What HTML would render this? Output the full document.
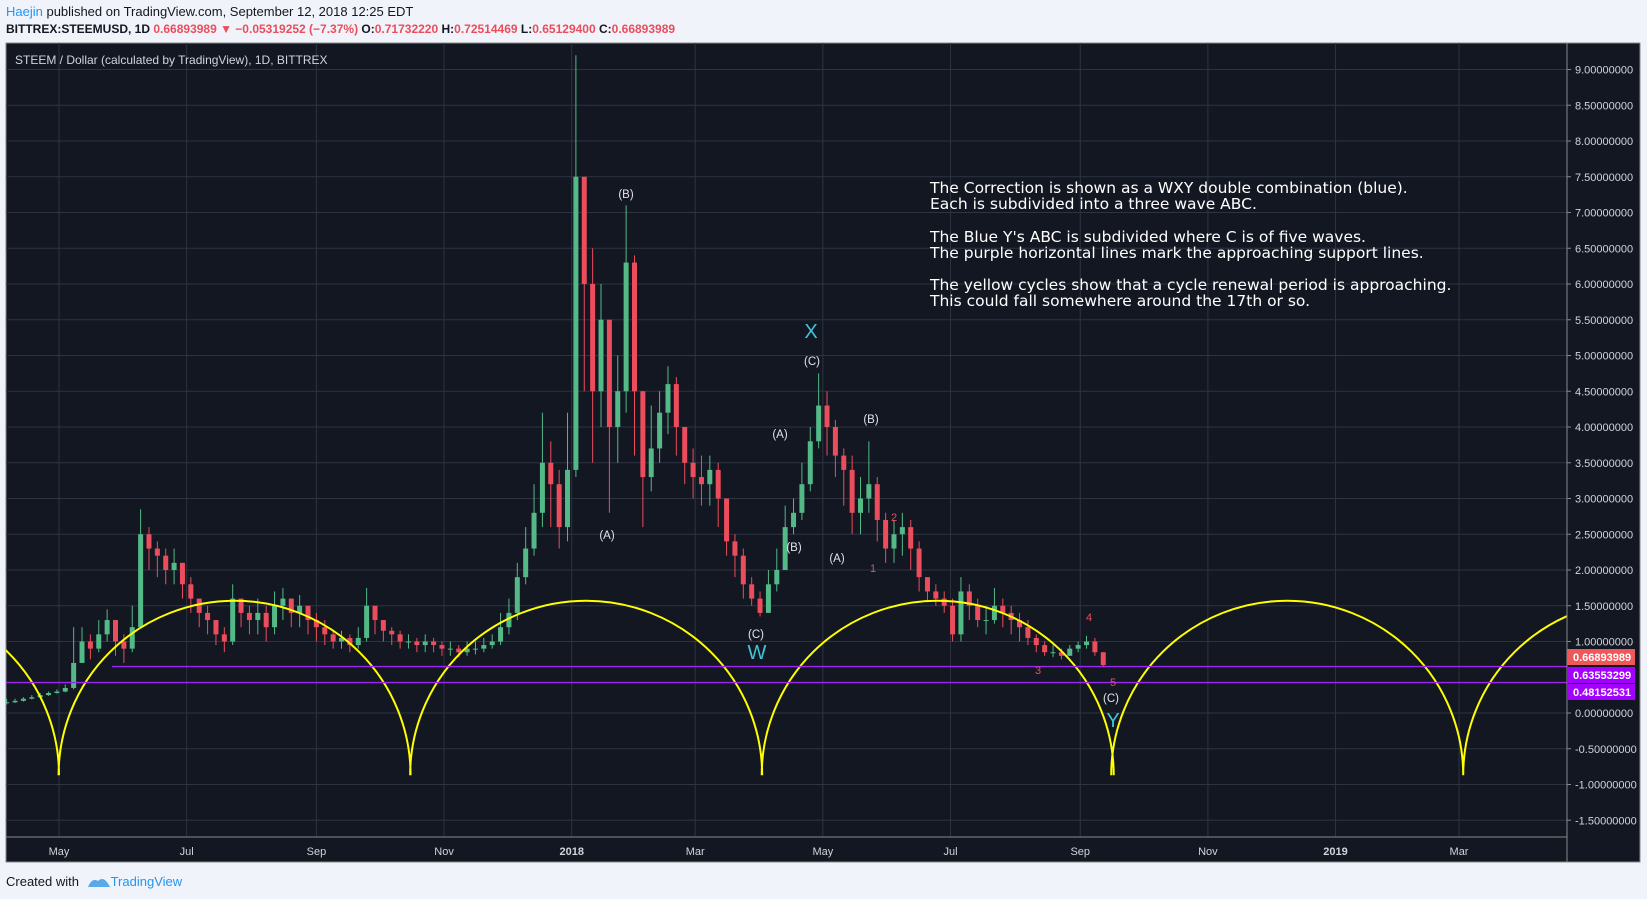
<!DOCTYPE html>
<html><head><meta charset="utf-8"><style>
body{margin:0;width:1647px;height:899px;background:#f0f3fa;font-family:"Liberation Sans",sans-serif;overflow:hidden;position:relative}
.hd{position:absolute;left:6px;font-size:12px;color:#131722;white-space:nowrap}
</style></head><body>
<div class="hd" style="top:4px;font-size:13px"><span style="color:#2196f3">Haejin</span> published on TradingView.com, September 12, 2018 12:25 EDT</div>
<div class="hd" style="top:22px;font-weight:bold">BITTREX:STEEMUSD, 1D <span style="color:#eb4d5c">0.66893989 ▼ −0.05319252 (−7.37%)</span> O:<span style="color:#eb4d5c">0.71732220</span> H:<span style="color:#eb4d5c">0.72514469</span> L:<span style="color:#eb4d5c">0.65129400</span> C:<span style="color:#eb4d5c">0.66893989</span></div>
<svg id="c" width="1647" height="899" style="position:absolute;left:0;top:0"></svg>
<div class="hd" style="top:874px;font-size:13px">Created with <span style="color:#2196f3;margin-left:28px">TradingView</span></div>
<svg width="26" height="14" style="position:absolute;left:86px;top:875px"><path d="M2 12 Q6 2 12 6 Q18 0 24 12 Z" fill="#5ba8e8"/></svg>
<script>
const closes=[0.15,0.17,0.2,0.22,0.25,0.28,0.3,0.35,0.7,1.0,0.9,1.1,1.3,1.0,0.9,1.2,2.5,2.3,2.2,2.0,2.1,1.8,1.6,1.4,1.3,1.1,1.0,1.6,1.4,1.3,1.4,1.2,1.5,1.6,1.4,1.5,1.3,1.2,1.1,1.0,1.05,0.95,1.05,1.5,1.3,1.15,1.1,1.0,1.0,0.95,1.0,0.95,0.9,0.9,0.85,0.9,0.9,0.95,1.0,1.2,1.4,1.9,2.3,2.8,3.5,3.2,2.6,3.4,7.5,6.0,4.5,5.5,4.0,4.5,6.3,4.5,3.3,3.7,4.2,4.6,4.0,3.5,3.3,3.2,3.4,3.0,2.4,2.2,1.8,1.6,1.4,1.8,2.0,2.6,2.8,3.2,3.8,4.3,4.0,3.6,3.4,2.8,3.0,3.2,2.7,2.3,2.5,2.6,2.3,1.9,1.7,1.6,1.5,1.1,1.7,1.5,1.3,1.3,1.5,1.4,1.3,1.2,1.05,0.95,0.85,0.85,0.8,0.9,0.95,1.0,0.85,0.67];
const highs=[0.2,0.2,0.22,0.25,0.28,0.3,0.33,0.4,1.2,1.2,1.1,1.3,1.45,1.3,1.1,1.5,2.85,2.6,2.4,2.3,2.3,2.1,1.9,1.6,1.5,1.3,1.2,1.8,1.6,1.5,1.6,1.5,1.7,1.75,1.6,1.65,1.5,1.4,1.3,1.15,1.15,1.1,1.2,1.75,1.5,1.3,1.2,1.15,1.1,1.05,1.1,1.05,1.0,1.0,0.95,1.0,1.0,1.05,1.1,1.4,1.6,2.1,2.6,3.2,4.2,3.8,3.4,4.2,9.2,7.5,6.5,6.0,5.5,5.0,7.1,6.4,4.5,4.3,4.5,4.85,4.7,4.0,3.7,3.6,3.6,3.5,3.0,2.5,2.3,1.9,1.7,2.0,2.3,2.9,3.0,3.5,4.0,4.75,4.5,4.1,3.7,3.6,3.3,3.8,3.3,2.8,2.7,2.8,2.7,2.4,1.9,1.8,1.7,1.6,1.9,1.8,1.6,1.5,1.75,1.6,1.5,1.4,1.3,1.1,1.0,0.95,0.9,0.95,1.0,1.08,1.05,0.85];
const lows=[0.12,0.14,0.16,0.19,0.21,0.24,0.27,0.29,0.33,0.75,0.75,0.85,1.0,0.8,0.7,0.85,1.2,2.0,1.9,1.8,1.8,1.6,1.4,1.2,1.1,0.95,0.85,0.95,1.2,1.1,1.1,1.0,1.1,1.3,1.2,1.2,1.1,1.0,0.95,0.9,0.9,0.85,0.9,1.0,1.1,1.0,0.95,0.9,0.9,0.85,0.85,0.85,0.8,0.8,0.78,0.8,0.82,0.85,0.9,0.95,1.1,1.3,1.8,2.2,2.6,2.6,2.3,2.4,3.3,4.5,3.5,4.0,2.8,3.5,4.2,3.6,2.6,3.1,3.5,3.9,3.6,3.2,3.0,2.9,2.9,2.6,2.2,1.9,1.6,1.5,1.35,1.4,1.7,2.0,2.5,2.7,3.1,3.7,3.6,3.3,2.9,2.5,2.5,2.8,2.4,2.1,2.1,2.2,2.0,1.7,1.55,1.5,1.4,1.0,1.0,1.3,1.2,1.1,1.25,1.2,1.1,1.0,0.95,0.85,0.8,0.78,0.75,0.8,0.85,0.9,0.8,0.65];
const startDay=-25, stepDays=4;
const yTicks=[9,8.5,8,7.5,7,6.5,6,5.5,5,4.5,4,3.5,3,2.5,2,1.5,1,0,-0.5,-1,-1.5];
const monthLabels=["May","Jul","Sep","Nov","2018","Mar","May","Jul","Sep","Nov","2019","Mar"];
const monthDays=[0,61,123,184,245,304,365,426,488,549,610,669];
const cycleDays=[0,168,336,504,671];
const supportLevels=[0.63553299,0.48152531];
const lastPrice=0.66893989;
const NS="http://www.w3.org/2000/svg",svg=document.getElementById('c');
const X=d=>59+d*2.0927, Y=v=>713-71.5*v;
function el(t,a,p){const e=document.createElementNS(NS,t);for(const k in a)e.setAttribute(k,a[k]);(p||svg).appendChild(e);return e;}
const bg=el('rect',{x:6,y:43,width:1634,height:819,fill:'#131722',stroke:'#888','stroke-width':1});


const defs=el('defs',{});const cp=el('clipPath',{id:'pc'},defs);el('rect',{x:6,y:43,width:1561,height:794},cp);
const g=el('g',{'clip-path':'url(#pc)'});
yTicks.forEach(v=>{const l=el('line',{x1:6,x2:1567,y1:Y(v),y2:Y(v),stroke:'#2e3342'},g);


const t=el('text',{x:1575,y:Y(v)+4,fill:'#d1d4dc','font-size':11},svg);t.textContent=v.toFixed(8);


el('line',{x1:1567,x2:1571,y1:Y(v),y2:Y(v),stroke:'#888'});});
monthLabels.forEach((m,i)=>{const x=X(monthDays[i]);el('line',{x1:x,x2:x,y1:43,y2:837,stroke:'#2e3342'},g);
const t=el('text',{x:x,y:855,fill:'#d1d4dc','font-size':11,'text-anchor':'middle','font-weight':(m.length==4?'bold':'normal')});t.textContent=m;

});
el('line',{x1:1567,x2:1567,y1:43,y2:862,stroke:'#888'});
el('line',{x1:6,x2:1567,y1:837,y2:837,stroke:'#888'});
closes.forEach((c,i)=>{const o=i?closes[i-1]:c;const x=X(startDay+i*stepDays);const col=c>=o?'#53b987':'#eb4d5c';
el('line',{x1:x,x2:x,y1:Y(highs[i]),y2:Y(lows[i]),stroke:col,'stroke-width':1},g);
const r=el('rect',{x:x-2.5,y:Y(Math.max(o,c)),width:5,height:Math.max(1,Math.abs(Y(o)-Y(c))),fill:col},g);

});
const rx=176,cy=Y(-0.87),ry=cy-Y(1.57);
let d='';cycleDays.forEach((cd,i)=>{const x0=X(cd);d+=`M${x0-rx*2},${cy} A${rx},${ry} 0 0 1 ${x0},${cy} `;});
d+=`M${X(cycleDays[4])},${cy} A${rx},${ry} 0 0 1 ${X(cycleDays[4])+2*rx},${cy}`;
const cyc=el('path',{d:d,fill:'none',stroke:'#ffff00','stroke-width':2},g);


supportLevels.forEach((v,i)=>{const l=el('line',{x1:i==0?112:6,x2:1567,y1:Y(v)+ (i==0?-1:4),y2:Y(v)+(i==0?-1:4),stroke:'#9c27f0','stroke-width':1.3},g);

});
[[lastPrice,'#f0575a',657],[supportLevels[0],'#a200ff',675],[supportLevels[1],'#a200ff',692]].forEach(([v,c,yy])=>{
const r=el('rect',{x:1567,y:yy-8,width:68,height:16,fill:c});


const t=el('text',{x:1573,y:yy+4,fill:'#fff','font-size':11,'font-weight':'bold'});t.textContent=v.toFixed(8);});
function txt(s,x,y,c,fs,anchor,name,fam){const t=el('text',{x:x,y:y,fill:c,'font-size':fs,'text-anchor':anchor||'middle'});t.textContent=s;
if(fam)t.setAttribute('font-family',fam);

}
txt('STEEM / Dollar (calculated by TradingView), 1D, BITTREX',15,64,'#d1d4dc',12,'start','symbol-title');
[['The Correction is shown as a WXY double combination (blue).',193],['Each is subdivided into a three wave ABC.',209],['The Blue Y\'s ABC is subdivided where C is of five waves.',242],['The purple horizontal lines mark the approaching support lines.',258],['The yellow cycles show that a cycle renewal period is approaching.',290],['This could fall somewhere around the 17th or so.',306]].forEach(([s,y])=>txt(s,930,y,'#fff',15.5,'start','annotation-text','DejaVu Sans, sans-serif'));
[['(B)',626,198],['(A)',607,539],['(C)',812,365],['(A)',780,438],['(B)',871,423],['(B)',794,551],['(A)',837,562],['(C)',756,638],['(C)',1111,702]].forEach(([s,x,y])=>txt(s,x,y,'#e0e3eb',11.5));
[['X',811,338],['W',757,659],['Y',1113,727]].forEach(([s,x,y])=>txt(s,x,y,'#40c4d8',20,'middle','wxy-label'));
[['1',873,572],['2',894,521],['3',1038,674],['4',1089,621],['5',1113,686]].forEach(([s,x,y])=>txt(s,x,y,'#eb4d5c',11,'middle','impulse-label'));
</script>
</body></html>
